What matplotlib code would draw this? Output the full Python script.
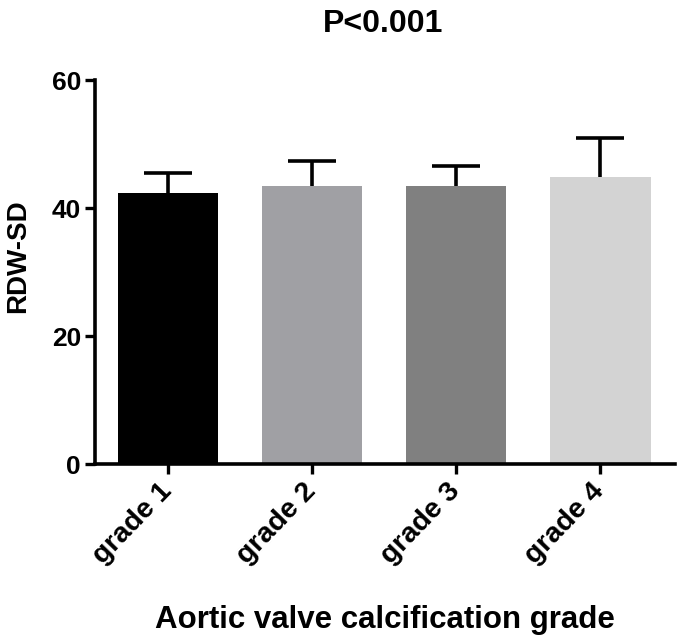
import matplotlib
matplotlib.use('Agg')
import matplotlib.pyplot as plt
import numpy as np

# values
grades = ['grade 1', 'grade 2', 'grade 3', 'grade 4']
rdw_mean = [42.4, 43.4, 43.5, 44.8]
rdw_sd = [3.1, 4.0, 3.0, 6.2]
bar_colors = ['#000000', '#a0a0a4', '#808080', '#d3d3d3']

plt.rcParams['font.family'] = ['Liberation Sans', 'DejaVu Sans']
plt.rcParams['font.weight'] = 'bold'

fig = plt.figure(figsize=(6.83, 6.44), dpi=100)
ax = fig.add_axes([95/683, 1 - 464/644, 580/683, 384/644])

x = np.arange(len(grades))
mean = np.array(rdw_mean)
top = mean + np.array(rdw_sd)
ax.bar(x, mean, width=0.70, color=bar_colors, zorder=2)
# upper error bars only (GraphPad style)
ax.vlines(x, mean, top, color='black', linewidth=2.6, zorder=3)
ax.hlines(top, x - 0.167, x + 0.167, color='black', linewidth=2.6, zorder=3)

ax.set_xlim(-0.507, 3.52)
ax.set_ylim(0, 60)
ax.set_yticks([0, 20, 40, 60])
ax.set_xticks(x)
ax.set_xticklabels(grades, rotation=46, ha='right', va='center', rotation_mode='anchor')

for s in ['top', 'right']:
    ax.spines[s].set_visible(False)
for s in ['left', 'bottom']:
    ax.spines[s].set_linewidth(2.6)

ax.tick_params(axis='both', length=7, width=2.4, labelsize=19)
ax.tick_params(axis='x', pad=10, labelsize=20.5)
ax.tick_params(axis='y', pad=3)

ax.set_ylabel('RDW-SD', fontsize=20, fontweight='bold')
ax.yaxis.set_label_coords((18 - 95) / 580, (464 - 256) / 384)
ax.yaxis.label.set_va('center')

ax.set_xlabel('Aortic valve calcification grade', fontsize=22.5, fontweight='bold')
ax.xaxis.set_label_coords(0.5, (464 - 620) / 384)
ax.xaxis.label.set_va('center')

fig.text(383/683, 1 - 24/644, 'P<0.001', ha='center', va='center', fontsize=23, fontweight='bold')

fig.savefig('out.png', dpi=100)
